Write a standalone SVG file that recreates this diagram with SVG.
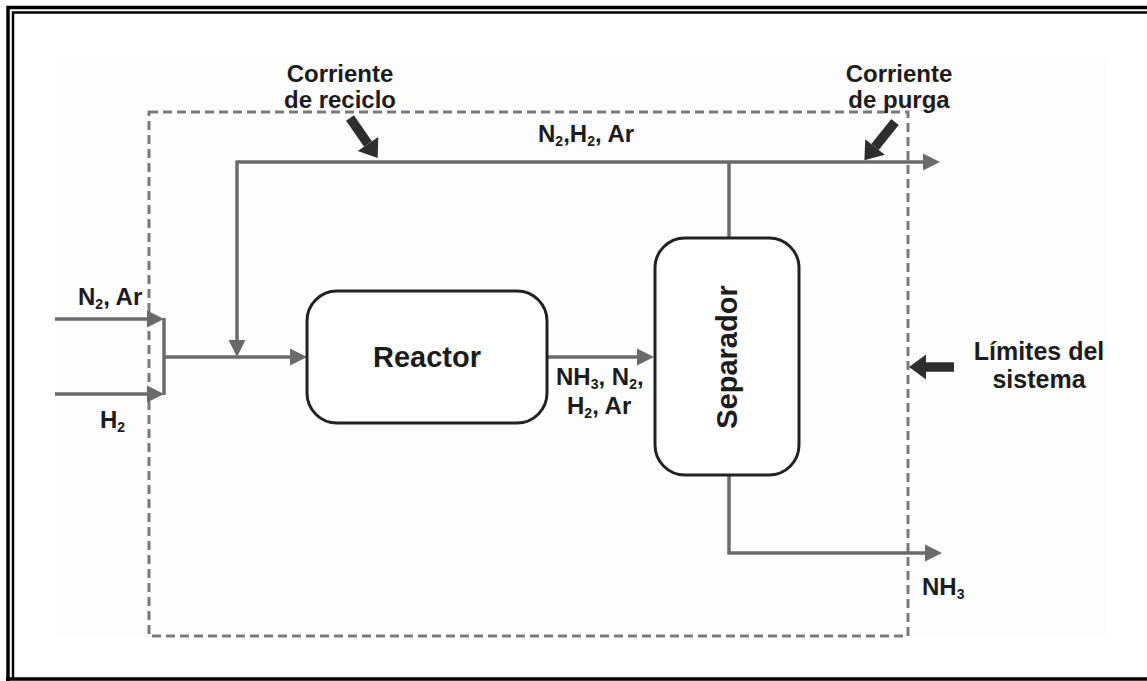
<svg xmlns="http://www.w3.org/2000/svg" width="1147" height="681" viewBox="0 0 1147 681">
<style>
.frame{fill:none;stroke:#000}
.conn{fill:none;stroke:#6a6a6a;stroke-width:3.5}
.call{fill:none;stroke:#2e2e2e;stroke-width:9.5}
.box{fill:#fff;stroke:#222;stroke-width:3}
.bound{fill:none;stroke:#7a7a7a;stroke-width:3;stroke-dasharray:9 5}
text{font-family:"Liberation Sans",Arial,sans-serif;font-weight:bold;fill:#1c1c1c}
.lbl{font-size:24px}
.call-t{font-size:24px;text-anchor:middle}
.node-t{font-size:29px;text-anchor:middle}
.sub{font-size:14px}
</style>
<defs>
<marker id="ah" markerUnits="userSpaceOnUse" markerWidth="20" markerHeight="20" viewBox="0 -10 20 20" refX="0" refY="0" orient="auto" overflow="visible">
<path d="M0,-8.5 L17,0 L0,8.5 z" fill="#6a6a6a"/>
</marker>
<marker id="bh" markerUnits="userSpaceOnUse" markerWidth="24" markerHeight="28" viewBox="0 -14 24 28" refX="0" refY="0" orient="auto" overflow="visible">
<path d="M0,-12.5 L17,0 L0,12.5 z" fill="#2e2e2e"/>
</marker>
</defs>
<rect x="0" y="0" width="1147" height="681" fill="#fff"/>
<rect x="55" y="57" width="1052" height="580" fill="#fdfdfd"/>
<g id="frame">
<path class="frame" d="M8,681 V7.5 H1147" stroke-width="3.5"/>
<path class="frame" d="M13,679 V12.5 H1147" stroke-width="2.5"/>
<path class="frame" d="M6,679 H1147" stroke-width="3.5"/>
</g>
<g id="boundary">
<rect class="bound" x="149" y="112" width="759" height="524"/>
</g>
<g id="connectors">
<path class="conn" d="M55,319 H147" marker-end="url(#ah)"/>
<path class="conn" d="M55,394 H147" marker-end="url(#ah)"/>
<path class="conn" d="M164,318 V395"/>
<path class="conn" d="M164,357 H290" marker-end="url(#ah)"/>
<path class="conn" d="M237,162 H923" marker-end="url(#ah)"/>
<path class="conn" d="M237,160.5 V340" marker-end="url(#ah)"/>
<path class="conn" d="M729,238 V162"/>
<path class="conn" d="M547,357 H637" marker-end="url(#ah)"/>
<path class="conn" d="M729,475 V553 H925" marker-end="url(#ah)"/>
</g>
<g id="reactor">
<rect class="box" x="307" y="291" width="240" height="132" rx="30"/>
<text class="node-t" x="427" y="367">Reactor</text>
</g>
<g id="separador">
<rect class="box" x="655" y="238" width="144" height="237" rx="30"/>
<text class="node-t" x="737" y="357" transform="rotate(-90 737 357)">Separador</text>
</g>
<g id="labels">
<text class="lbl" x="78" y="305">N<tspan class="sub" dy="4">2</tspan><tspan dy="-4">, Ar</tspan></text>
<text class="lbl" x="100" y="428">H<tspan class="sub" dy="4">2</tspan></text>
<text class="lbl" x="556" y="385">NH<tspan class="sub" dy="4">3</tspan><tspan dy="-4">, N</tspan><tspan class="sub" dy="4">2</tspan><tspan dy="-4">,</tspan></text>
<text class="lbl" x="567" y="414">H<tspan class="sub" dy="4">2</tspan><tspan dy="-4">, Ar</tspan></text>
<text class="lbl" x="538" y="142">N<tspan class="sub" dy="4">2</tspan><tspan dy="-4">,H</tspan><tspan class="sub" dy="4">2</tspan><tspan dy="-4">, Ar</tspan></text>
<text class="lbl" x="922" y="595">NH<tspan class="sub" dy="4">3</tspan></text>
</g>
<g id="callout-reciclo">
<text class="call-t" x="340" y="82">Corriente</text>
<text class="call-t" x="340" y="108">de reciclo</text>
<path class="call" d="M350,118 L368,144" marker-end="url(#bh)"/>
</g>
<g id="callout-purga">
<text class="call-t" x="899" y="82">Corriente</text>
<text class="call-t" x="899" y="108">de purga</text>
<path class="call" d="M895,122 L875,147" marker-end="url(#bh)"/>
</g>
<g id="callout-limites">
<text class="call-t" x="1039" y="360" style="font-size:25px">Límites del</text>
<text class="call-t" x="1039" y="388" style="font-size:25px">sistema</text>
<path class="call" d="M954,367 H926" marker-end="url(#bh)"/>
</g>
</svg>
